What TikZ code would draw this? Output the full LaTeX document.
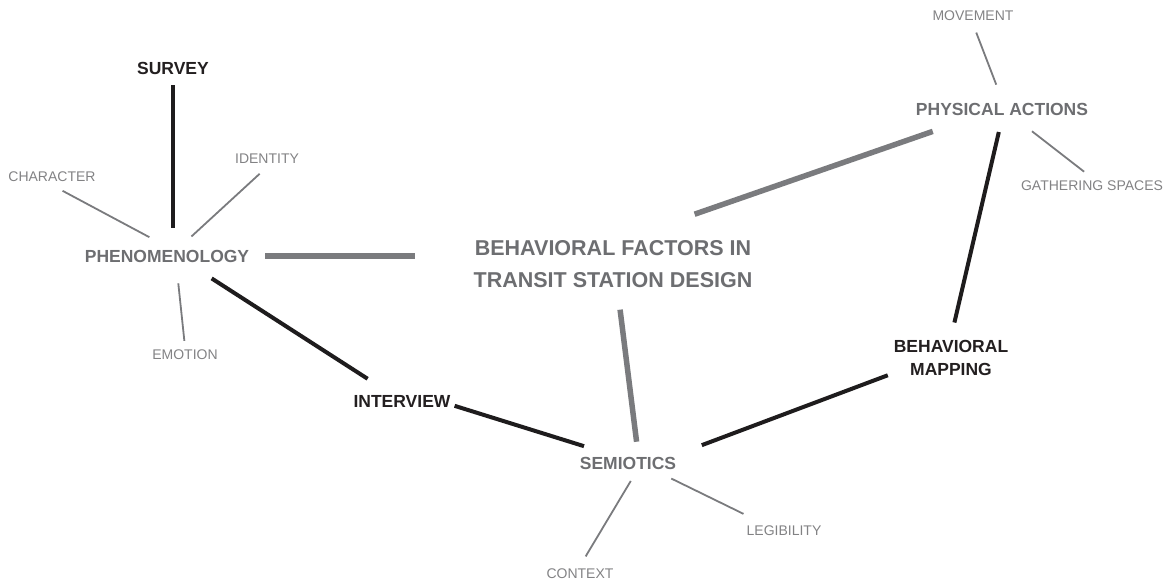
\documentclass[tikz,border=0pt]{standalone}
\usepackage{fontspec}
\setmainfont{Liberation Sans}
\definecolor{inkdark}{RGB}{35,31,32}
\definecolor{inkgray}{RGB}{109,110,113}
\definecolor{inklight}{RGB}{130,130,132}
\definecolor{barblack}{RGB}{30,28,29}
\definecolor{bargray}{RGB}{122,123,126}
\usetikzlibrary{positioning,calc}

\begin{document}
\begin{tikzpicture}[x=1pt, y=-1pt, inner sep=3pt,
    method/.style={font=\bfseries\fontsize{17.5}{23}\selectfont, text=inkdark, align=center},
    theme/.style={font=\bfseries\fontsize{17.5}{23}\selectfont, text=inkgray},
    facet/.style={font=\fontsize{14}{16}\selectfont, text=inklight},
    hub/.style={font=\bfseries\fontsize{21.5}{32}\selectfont, text=inkgray, align=center},
    tie/.style={draw=barblack, line width=4pt},
    trunk/.style={draw=bargray, line width=5.5pt},
    spoke/.style={draw=bargray, line width=1.8pt}]
  \useasboundingbox (0,0) rectangle (1169,582);

  % themes and the study itself
  \node[hub] (hub) at (613,264) {BEHAVIORAL FACTORS IN\\TRANSIT STATION DESIGN};
  \node[theme] (phen) at (167,256) {PHENOMENOLOGY};
  \node[theme] (semi) at (628,463) {SEMIOTICS};
  \node[theme] (phys) at (1002,109) {PHYSICAL ACTIONS};

  % methods
  \node[method] (survey) at (173,68) {SURVEY};
  \node[method] (interview) at (402,401) {INTERVIEW};
  \node[method] (bmap) at (951,358) {BEHAVIORAL\\MAPPING};

  % facets
  \node[facet] (character) at (52,177) {CHARACTER};
  \node[facet] (identity) at (267,159) {IDENTITY};
  \node[facet] (emotion) at (185,355) {EMOTION};
  \node[facet] (movement) at (973,16) {MOVEMENT};
  \node[facet] (gathering) at (1092,186) {GATHERING SPACES};
  \node[facet] (context) at (580,574) {CONTEXT};
  \node[facet] (legibility) at (784,531) {LEGIBILITY};

  % links
  \draw[trunk, shorten <=13pt, shorten >=55pt] (phen.east) -- (phen.east -| hub.west);
  \draw[trunk, shorten <=70pt] (hub.60) -- ([xshift=20pt,yshift=-13pt]phys.south west);
  \draw[trunk, shorten <=19pt, shorten >=12pt] (hub.-80) -- (semi.43);
  \draw[tie, shorten <=8pt, shorten >=19pt] (survey.south) -- (survey.south |- phen.north);
  \draw[tie, shorten <=24pt, shorten >=24pt] (phen.-21) -- (interview.147);
  \draw[tie, shorten <=1pt, shorten >=25pt] (interview.-5) -- (semi.155);
  \draw[tie, shorten <=24pt, shorten >=3pt] (semi.north east) -- (bmap.195);
  \draw[tie, shorten <=14pt, shorten >=15pt] (phys.south) -- (bmap.north);

  % facet spokes
  \draw[spoke, shorten <=12pt, shorten >=20pt] (character.south) -- (phen.north);
  \draw[spoke, shorten <=10pt, shorten >=15pt] (identity.south) -- (phen.35);
  \draw[spoke, shorten <=18pt, shorten >=6pt] (phen.-45) -- (emotion.north);
  \draw[spoke, shorten <=9pt, shorten >=16pt] (movement.south) -- (phys.north);
  \draw[spoke, shorten <=21pt, shorten >=10pt] (phys.-35) -- (gathering.north);
  \draw[spoke, shorten <=10pt, shorten >=11pt] (semi.-50) -- (context.north);
  \draw[spoke, shorten <=14pt] (semi.-17) -- ([yshift=9pt]legibility.north west);
\end{tikzpicture}
\end{document}
